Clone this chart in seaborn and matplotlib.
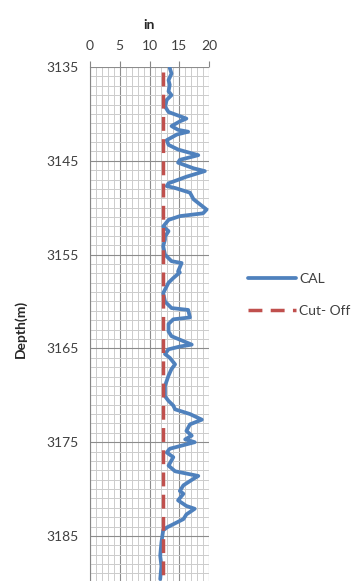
"""Caliper log (CAL) against depth with cut-off line."""

import numpy as np
import pandas as pd
import seaborn as sns
import matplotlib.pyplot as plt
from matplotlib.ticker import MultipleLocator

depth = [3135.1, 3135.7, 3136.4, 3136.9, 3137.6, 3138.0, 3138.5, 3139.2, 3139.8,
         3140.5, 3140.8, 3141.3, 3141.7, 3141.9, 3142.2, 3142.8, 3143.3, 3143.8,
         3144.4, 3144.9, 3145.2, 3145.8, 3146.1, 3146.7, 3147.4, 3147.7, 3147.9,
         3148.4, 3149.1, 3149.5, 3150.2, 3150.6, 3150.9, 3151.3, 3152.0, 3152.5,
         3153.1, 3153.4, 3154.1, 3155.0, 3155.7, 3155.9, 3156.8, 3156.9, 3157.5,
         3158.0, 3159.1, 3160.0, 3160.7, 3160.9, 3161.7, 3161.9, 3162.4, 3163.2,
         3163.7, 3164.6, 3164.8, 3165.1, 3165.6, 3166.0, 3166.7, 3167.2, 3167.9,
         3169.0, 3170.1, 3170.6, 3171.1, 3171.5, 3172.0, 3172.6, 3173.1, 3173.8,
         3174.3, 3174.7, 3175.0, 3175.7, 3176.1, 3176.6, 3177.5, 3178.1, 3178.6,
         3178.9, 3179.6, 3180.2, 3180.5, 3181.2, 3181.8, 3182.1, 3182.7, 3183.2,
         3184.1, 3184.4, 3185.7, 3187.1, 3188.2, 3189.6]
cal = [13.4, 13.7, 13.2, 13.4, 13.2, 13.7, 12.9, 12.6, 13.2,
       16.2, 15.1, 13.7, 14.8, 16.5, 14.6, 12.9, 13.2, 14.8,
       18.2, 15.1, 14.8, 17.4, 19.3, 16.2, 13.2, 12.9, 14.3,
       16.8, 17.4, 18.2, 19.6, 19.0, 15.1, 13.2, 12.3, 13.2,
       12.6, 12.6, 12.3, 12.6, 13.7, 15.4, 14.8, 15.1, 14.0,
       13.2, 12.3, 12.6, 13.7, 16.5, 16.8, 14.0, 13.2, 13.2,
       13.7, 17.1, 15.1, 13.2, 12.6, 13.4, 14.3, 13.7, 13.2,
       12.6, 12.6, 13.2, 14.0, 14.3, 16.8, 18.8, 16.8, 16.2,
       17.1, 16.0, 17.6, 13.4, 12.9, 14.0, 13.2, 14.3, 18.2,
       17.4, 15.7, 15.1, 15.7, 14.8, 16.2, 17.6, 16.2, 15.7,
       12.9, 12.3, 12.0, 11.8, 12.0, 11.8]
cutoff_depth = [3135.5, 3190.0]
cutoff_val = [12.2, 12.2]

x_ticks = [0, 5, 10, 15, 20]
y_ticks = [3135, 3145, 3155, 3165, 3175, 3185]

sns.set_style("white")
plt.rcParams['font.family'] = ['Lato', 'DejaVu Sans']

fig = plt.figure(figsize=(3.52, 5.81), dpi=100)
ax = fig.add_axes([90 / 352, 0, 119 / 352, 514 / 581])

cal_df = pd.DataFrame({'depth': depth, 'cal': cal})
cut_df = pd.DataFrame({'depth': cutoff_depth, 'cal': cutoff_val})

sns.lineplot(data=cal_df, x='cal', y='depth', sort=False, orient='y',
             estimator=None, ax=ax, color='#4F81BD', linewidth=2.7,
             solid_joinstyle='round', label='CAL')
sns.lineplot(data=cut_df, x='cal', y='depth', sort=False, orient='y',
             estimator=None, ax=ax, color='#C0504D', linewidth=2.5,
             linestyle=(0, (4.0, 2.4)), label='Cut- Off')

# Axes limits and ticks
ax.set_xlim(0, 20)
ax.set_ylim(3189.8, 3135)
ax.xaxis.set_ticks_position('top')
ax.xaxis.set_label_position('top')
ax.set_xticks(x_ticks)
ax.set_yticks(y_ticks)
ax.xaxis.set_minor_locator(MultipleLocator(1))
ax.yaxis.set_minor_locator(MultipleLocator(1))
ax.tick_params(which='major', direction='out', length=4, width=0.8,
               color='#868686', labelsize=10, pad=4, labelcolor='#404040')
ax.tick_params(axis='x', which='major', pad=7)
ax.tick_params(which='minor', length=0)

# Grid lines
ax.grid(which='major', color='#8c8c8c', linewidth=0.8)
ax.grid(which='minor', color='#cccccc', linewidth=0.7)
ax.set_axisbelow(True)
for s in ax.spines.values():
    s.set_visible(False)
ax.spines['left'].set_visible(True)
ax.spines['left'].set_color('#868686')
ax.spines['left'].set_linewidth(0.8)

ax.set_xlabel('in', fontsize=10, fontweight='bold', labelpad=8)
ax.set_ylabel('Depth(m)', fontsize=10, fontweight='bold')
ax.yaxis.set_label_coords(-0.53, 0.49)

# Legend
leg = ax.legend(loc='center left', bbox_to_anchor=(1.22, 0.556), frameon=False,
                fontsize=10, handlelength=3.5, handletextpad=0.2,
                labelspacing=1.45)
for t in leg.get_texts():
    t.set_color('#404040')

fig.savefig('out.png', dpi=100)
